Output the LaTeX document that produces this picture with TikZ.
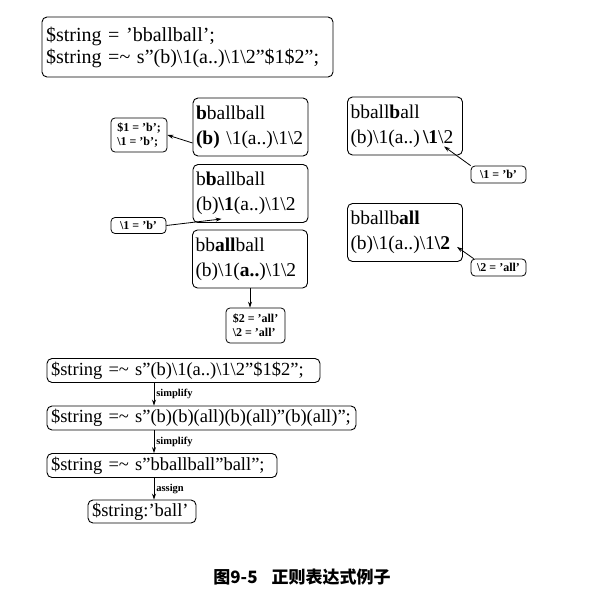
\documentclass[tikz,border=0pt]{standalone}
\usepackage{fontspec}
\setmainfont{Liberation Serif}
\newfontfamily\cjkfont{Noto Sans CJK SC}
\usetikzlibrary{arrows.meta}
\newcommand\BSx{\textbackslash}
\newcommand\TLx{\textasciitilde}
\begin{document}
\begin{tikzpicture}[x=1pt,y=-1pt,
  bigbox/.style={draw, rounded corners=5, line width=0.9, inner xsep=4, inner ysep=0, align=left, anchor=center},
  midbox/.style={bigbox, inner xsep=3, font=\fontsize{19.5}{25}\selectfont, text width=109, minimum height=58},
  chainbox/.style={bigbox, font=\fontsize{18.5}{20}\selectfont, minimum height=24},
  lab/.style={draw, rounded corners=4, line width=0.8, font=\bfseries\fontsize{12}{14}\selectfont, inner xsep=1.5, inner ysep=1, align=left},
  arr/.style={-{Stealth[length=6,width=4]}, line width=0.8},
  steplab/.style={right, font=\bfseries\fontsize{10.5}{11}\selectfont, inner sep=2}
]
\useasboundingbox (0,0) rectangle (612,615);

% top box
\node[bigbox, font=\fontsize{20}{22}\selectfont, text width=283, minimum height=60] (top) at (187.5,47)
  {\$string = 'bballball';\\ \$string =\TLx{} s"(b)\BSx1(a..)\BSx1\BSx2"\$1\$2";};

% middle column
\node[midbox] (A) at (250.5,127) {\textbf{b}ballball\\\textbf{(b)} \BSx1(a..)\BSx1\BSx2};
\node[midbox] (B) at (250.5,193.5) {b\textbf{b}allball\\(b)\textbf{\BSx1}(a..)\BSx1\BSx2};
\node[midbox] (C) at (250,259) {bb\textbf{all}ball\\(b)\BSx1(\textbf{a..})\BSx1\BSx2};

\node[lab, minimum width=56, minimum height=34] (L1) at (139,135) {\$1 = 'b';\\\BSx1 = 'b';};
\node[lab, minimum width=55, minimum height=16] (L2) at (138.5,225.5) {\BSx1 = 'b'};
\node[lab, minimum width=59, minimum height=35] (L3) at (255.5,325.5) {\$2 = 'all'\\\BSx2 = 'all'};

\draw[arr] ([yshift=-16pt]A.west) -- (L1.east);
\draw[arr] (L2.east) -- ([shift={(29,-4)}]B.south west);
\draw[arr] (C.south) -- (C.south |- L3.north);

% right column
\node[midbox] (R1) at (405,126) {bball\textbf{b}all\\\mbox{(b)\BSx1(a..)\,\textbf{\BSx1}\BSx2}};
\node[midbox] (R2) at (405,232.5) {bballb\textbf{all}\\(b)\BSx1(a..)\BSx1\textbf{\BSx2}};
\node[lab, minimum width=55, minimum height=17] (R1L) at (498.5,174.5) {\BSx1 = 'b'};
\node[lab, minimum width=55, minimum height=17] (R2L) at (498.5,267.5) {\BSx2 = 'all'};
\draw[arr] (R1L.north west) -- ([shift={(97,-9)}]R1.south west);
\draw[arr] ([xshift=3pt]R2L.north west) -- ([shift={(110,-15)}]R2.south west);

% bottom chain
\node[chainbox, text width=265] (S1) at (183.5,370.5) {\$string =\TLx{} s"(b)\BSx1(a..)\BSx1\BSx2"\$1\$2";};
\node[chainbox, text width=301] (S2) at (201.5,418) {\$string =\TLx{} s"(b)(b)(all)(b)(all)"(b)(all)";};
\node[chainbox, text width=222] (S3) at (162,465.5) {\$string =\TLx{} s"bballball"ball";};
\node[chainbox, text width=100, minimum height=23] (S4) at (142,511.5) {\$string:'ball'};

\coordinate (ax) at (154,0);
\draw[arr] (S1.south -| ax) -- node[steplab]{simplify} (S2.north -| ax);
\draw[arr] (S2.south -| ax) -- node[steplab]{simplify} (S3.north -| ax);
\draw[arr] (S3.south -| ax) -- node[steplab]{assign} (S4.north -| ax);

% caption
\node[font=\cjkfont\bfseries\fontsize{17}{20}\selectfont] (cap) at (302,577) {图9-5\hspace{14pt}正则表达式例子};
\end{tikzpicture}
\end{document}
